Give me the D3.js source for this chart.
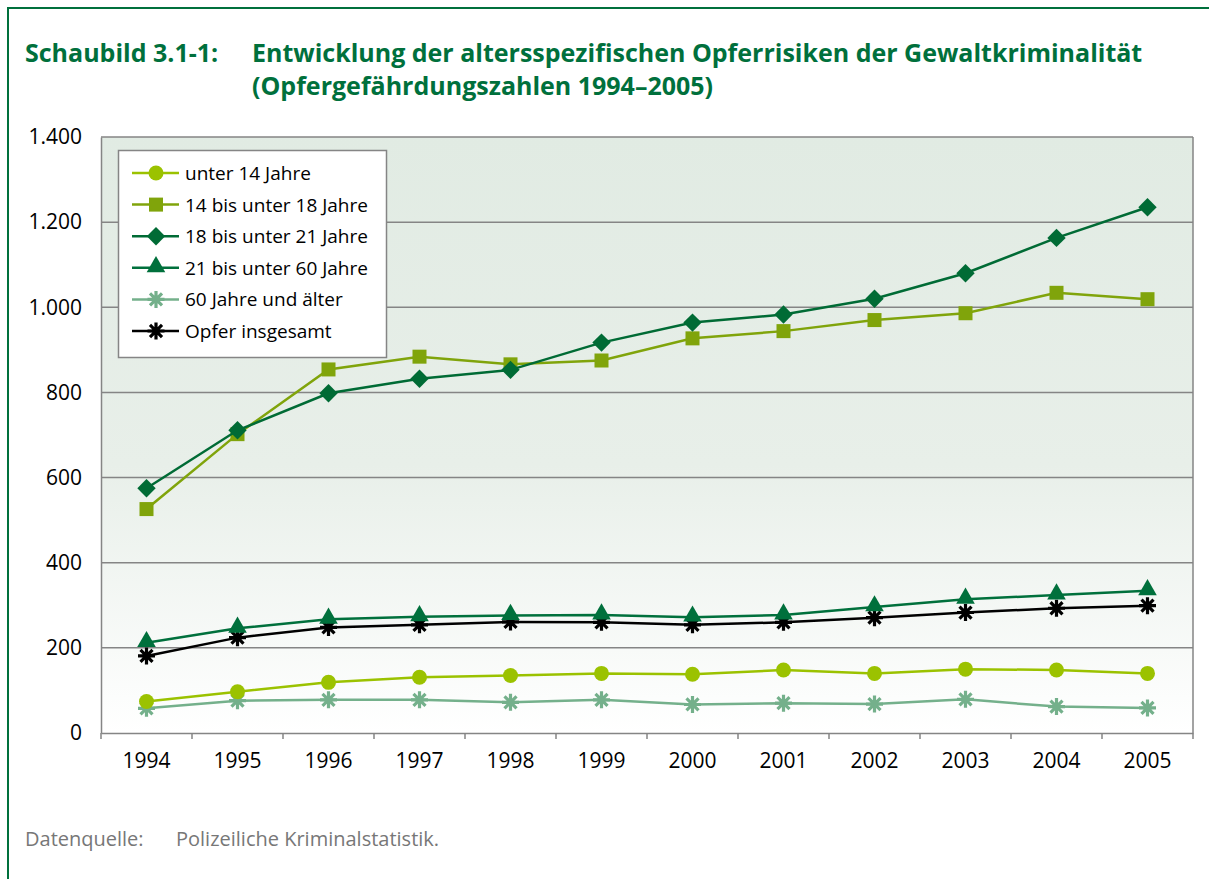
<!DOCTYPE html>
<html>
<head>
<meta charset="utf-8">
<script src="https://cdn.jsdelivr.net/npm/d3@7"></script>
<style>
  body { margin: 0; background: #fff; }
  text { font-family: "Open Sans", "Noto Sans", sans-serif; }
</style>
</head>
<body>
<script>
var years = [1994, 1995, 1996, 1997, 1998, 1999, 2000, 2001, 2002, 2003, 2004, 2005];
var unter14 = [74, 97, 119, 131, 135, 140, 138, 148, 140, 150, 148, 140];
var bis18 = [526, 702, 854, 884, 866, 875, 927, 944, 970, 986, 1034, 1019];
var bis21 = [575, 711, 798, 832, 853, 917, 964, 983, 1020, 1080, 1163, 1235];
var bis60 = [212, 246, 267, 273, 276, 277, 272, 277, 296, 314, 324, 334];
var ab60 = [58, 76, 78, 78, 72, 78, 67, 70, 68, 79, 62, 59];
var insgesamt = [181, 224, 248, 254, 261, 260, 254, 260, 271, 283, 293, 299];
var yTicks = [0, 200, 400, 600, 800, 1000, 1200, 1400];

var seriesNames = ["unter 14 Jahre", "14 bis unter 18 Jahre", "18 bis unter 21 Jahre",
                   "21 bis unter 60 Jahre", "60 Jahre und älter", "Opfer insgesamt"];
var seriesColors = ["#9bc200", "#80a40b", "#006b35", "#00703c", "#74b08b", "#000000"];
var seriesMarkers = ["circle", "square", "diamond", "triangle", "star", "star"];
var seriesValues = [unter14, bis18, bis21, bis60, ab60, insgesamt];

var width = 1209,
    height = 879;

var de = d3.formatLocale({decimal: ",", thousands: ".", grouping: [3], currency: ["", " €"]});
var fmt = de.format(",d");

var svg = d3.select("body").append("svg")
    .attr("width", width)
    .attr("height", height);

// green frame
svg.append("rect")
    .attr("x", 8).attr("y", 8)
    .attr("width", width + 20).attr("height", height + 20)
    .attr("fill", "none")
    .attr("stroke", "#00703c")
    .attr("stroke-width", 2);

// title
var title = svg.append("g").attr("fill", "#00703c").attr("font-weight", 700).attr("font-size", "25px");
title.append("text").attr("x", 25).attr("y", 62).text("Schaubild 3.1-1:");
title.append("text").attr("x", 252).attr("y", 62).text("Entwicklung der altersspezifischen Opferrisiken der Gewaltkriminalität");
title.append("text").attr("x", 252).attr("y", 95).text("(Opfergefährdungszahlen 1994–2005)");

var x = d3.scaleBand().domain(years).range([101, 1193]);
var y = d3.scaleLinear().domain([0, 1400]).range([733, 137]);

// plot background gradient
var defs = svg.append("defs");
var grad = defs.append("linearGradient")
    .attr("id", "bg")
    .attr("x1", "0%").attr("y1", "0%").attr("x2", "0%").attr("y2", "100%");
grad.append("stop").attr("offset", "0%").attr("stop-color", "#e1ebe3");
grad.append("stop").attr("offset", "55%").attr("stop-color", "#e8efe9");
grad.append("stop").attr("offset", "100%").attr("stop-color", "#ffffff");

svg.append("rect")
    .attr("x", x.range()[0]).attr("y", y(1400))
    .attr("width", x.range()[1] - x.range()[0])
    .attr("height", y(0) - y(1400))
    .attr("fill", "url(#bg)");

// gridlines
svg.append("g")
    .selectAll("line")
    .data(yTicks.filter(function (d) { return d > 0; }))
    .join("line")
    .attr("x1", x.range()[0]).attr("x2", x.range()[1])
    .attr("y1", function (d) { return y(d); })
    .attr("y2", function (d) { return y(d); })
    .attr("stroke", "#858585")
    .attr("stroke-width", 1.5);

// plot border right
svg.append("line")
    .attr("x1", x.range()[1]).attr("x2", x.range()[1])
    .attr("y1", y(1400)).attr("y2", y(0))
    .attr("stroke", "#858585").attr("stroke-width", 1.5);

// y axis
var yAxis = svg.append("g")
    .attr("transform", "translate(" + x.range()[0] + ",0)")
    .call(d3.axisLeft(y).tickValues(yTicks).tickFormat(fmt).tickSize(0).tickPadding(19));
yAxis.select(".domain").attr("stroke", "#858585").attr("stroke-width", 1.5);
yAxis.selectAll("text").attr("font-size", "21px").attr("fill", "#000")
    .style("font-family", '"Open Sans", sans-serif');

// x axis
var xAxis = svg.append("g")
    .attr("transform", "translate(0," + y(0) + ")")
    .call(d3.axisBottom(x).tickSize(0).tickPadding(20));
xAxis.select(".domain").attr("stroke", "#858585").attr("stroke-width", 1.5);
xAxis.selectAll("text").attr("font-size", "21px").attr("fill", "#000")
    .style("font-family", '"Open Sans", sans-serif');
var edges = years.map(function (d) { return x(d); }).concat([x.range()[1]]);
xAxis.selectAll(".edge")
    .data(edges)
    .join("line")
    .attr("class", "edge")
    .attr("x1", function (d) { return d; }).attr("x2", function (d) { return d; })
    .attr("y1", 0).attr("y2", 6)
    .attr("stroke", "#858585").attr("stroke-width", 1.5);

function cx(d) { return x(d) + x.bandwidth() / 2; }

function drawMarker(sel, type, color) {
    if (type === "circle") {
        sel.append("circle").attr("r", 7.5).attr("fill", color);
    } else if (type === "square") {
        sel.append("rect").attr("x", -7).attr("y", -7).attr("width", 14).attr("height", 14).attr("fill", color);
    } else if (type === "diamond") {
        sel.append("rect").attr("x", -6.5).attr("y", -6.5).attr("width", 13).attr("height", 13)
            .attr("transform", "rotate(45)").attr("fill", color);
    } else if (type === "triangle") {
        sel.append("path").attr("d", d3.symbol(d3.symbolTriangle, 150)()).attr("fill", color)
            .attr("transform", "translate(0,-1)");
    } else if (type === "star") {
        var r = 8.5;
        var p = "";
        [0, 45, 90, 135].forEach(function (a) {
            var rad = a * Math.PI / 180;
            var dx = r * Math.sin(rad), dy = r * Math.cos(rad);
            p += "M" + (-dx) + "," + (-dy) + "L" + dx + "," + dy;
        });
        sel.append("path").attr("d", p).attr("stroke", color).attr("stroke-width", 3.2).attr("fill", "none");
    }
}

var line = d3.line()
    .x(function (d) { return cx(d.year); })
    .y(function (d) { return y(d.value); });

var order = [4, 0, 5, 3, 1, 2];
order.forEach(function (i) {
    var pts = years.map(function (yr, j) { return {year: yr, value: seriesValues[i][j]}; });
    var g = svg.append("g");
    g.append("path")
        .datum(pts)
        .attr("d", line)
        .attr("fill", "none")
        .attr("stroke", seriesColors[i])
        .attr("stroke-width", 2.5);
    g.selectAll("g.m")
        .data(pts)
        .join("g")
        .attr("class", "m")
        .attr("transform", function (d) { return "translate(" + cx(d.year) + "," + y(d.value) + ")"; })
        .each(function () { drawMarker(d3.select(this), seriesMarkers[i], seriesColors[i]); });
});

// legend
var legend = svg.append("g");
legend.append("rect")
    .attr("x", 118.5).attr("y", 150.5)
    .attr("width", 268).attr("height", 207)
    .attr("fill", "#fff")
    .attr("stroke", "#858585").attr("stroke-width", 1.5);
seriesNames.forEach(function (name, i) {
    var ly = 173 + i * 31.6;
    var row = legend.append("g").attr("transform", "translate(0," + ly + ")");
    row.append("line")
        .attr("x1", 132).attr("x2", 179).attr("y1", 0).attr("y2", 0)
        .attr("stroke", seriesColors[i]).attr("stroke-width", 2.5);
    drawMarker(row.append("g").attr("transform", "translate(156,0)"), seriesMarkers[i], seriesColors[i]);
    row.append("text")
        .attr("x", 185).attr("y", 7)
        .attr("font-size", "19px")
        .attr("fill", "#000")
        .text(name);
});

// source
var src = svg.append("g").attr("fill", "#777").attr("font-size", "20px");
src.append("text").attr("x", 25).attr("y", 846).text("Datenquelle:");
src.append("text").attr("x", 176).attr("y", 846).text("Polizeiliche Kriminalstatistik.");
</script>
</body>
</html>
